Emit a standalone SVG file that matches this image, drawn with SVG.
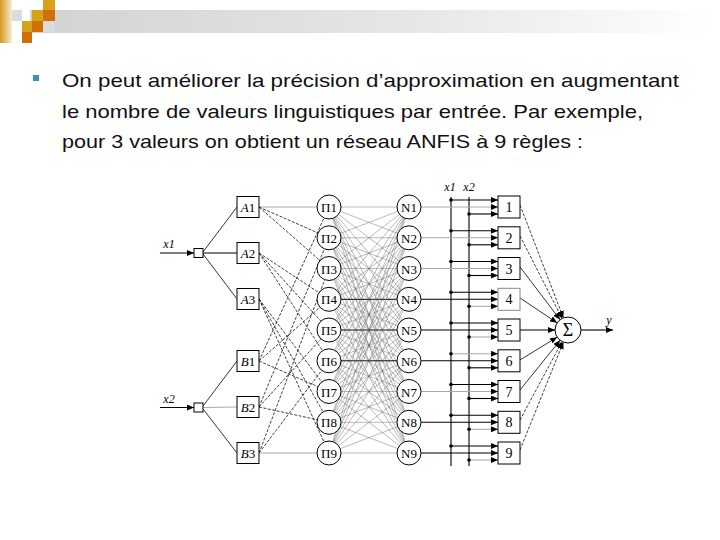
<svg xmlns="http://www.w3.org/2000/svg" width="720" height="540" viewBox="0 0 720 540">
<defs>
<linearGradient id="bar" x1="0" y1="0" x2="1" y2="0"><stop offset="0" stop-color="#d2d2d2"/><stop offset="0.55" stop-color="#e6e6e6"/><stop offset="1" stop-color="#ffffff"/></linearGradient>
<linearGradient id="strip" x1="0" y1="0" x2="1" y2="0"><stop offset="0" stop-color="#d49a1c"/><stop offset="1" stop-color="#f6ecd6"/></linearGradient>
<marker id="ah" markerWidth="8" markerHeight="6" refX="7" refY="3" orient="auto" markerUnits="userSpaceOnUse"><path d="M0,0L7,3L0,6z" fill="#000"/></marker>
<marker id="ahg" markerWidth="8" markerHeight="6" refX="7" refY="3" orient="auto" markerUnits="userSpaceOnUse"><path d="M0,0L7,3L0,6z" fill="#000"/></marker>
<style>
.t{font-family:"Liberation Sans",Arial,sans-serif;font-size:19px;fill:#111}
.lbl{font-family:"Liberation Serif","Times New Roman",serif;font-size:13px;fill:#000;text-anchor:middle}
.it{font-style:italic}
.box{fill:#fff;stroke:#000;stroke-width:1}
.circ{fill:#fff;stroke:#000;stroke-width:1}
.mesh line{stroke:#666;stroke-width:0.45}
.dash{stroke:#111;stroke-width:0.8;stroke-dasharray:3 1.5;fill:none}
.thin{stroke:#000;stroke-width:0.8;fill:none}
.blk{stroke:#000;stroke-width:1.1;fill:none}
.gry{stroke:#aaa;stroke-width:1.1;fill:none}
.dot{fill:#000}
</style>
</defs>
<g id="header">
<rect x="30" y="10" width="690" height="23" fill="url(#bar)"/>
<rect x="0" y="0" width="12" height="43" fill="url(#strip)"/>
<rect x="12" y="10" width="10" height="11" fill="#d8dce4"/>
<rect x="43" y="0" width="12" height="10" fill="#d6a21a"/>
<rect x="32" y="10" width="11" height="11" fill="#d6a21a"/>
<rect x="43" y="10" width="12" height="11" fill="#d06e08"/>
<rect x="22" y="21" width="10" height="11" fill="#d6a21a"/>
<rect x="32" y="21" width="11" height="11" fill="#d06e08"/>
<rect x="43" y="21" width="12" height="11" fill="#dcdcdc"/>
<rect x="22" y="32" width="10" height="11" fill="#d06e08"/>
</g>
<g id="text">
<rect x="33" y="75" width="6" height="6" fill="#3b8fd0"/>
<text class="t" x="62" y="87" textLength="617" lengthAdjust="spacingAndGlyphs">On peut améliorer la précision d’approximation en augmentant</text>
<text class="t" x="62" y="118" textLength="581" lengthAdjust="spacingAndGlyphs">le nombre de valeurs linguistiques par entrée. Par exemple,</text>
<text class="t" x="62" y="148" textLength="521" lengthAdjust="spacingAndGlyphs">pour 3 valeurs on obtient un réseau ANFIS à 9 règles :</text>
</g>
<g id="connectors">
<line class="blk" x1="160" y1="253" x2="194" y2="253" marker-end="url(#ah)"/>
<line class="blk" x1="160" y1="407.5" x2="194" y2="407.5" marker-end="url(#ah)"/>
<line class="thin" x1="203" y1="252" x2="237" y2="207"/>
<line class="blk" x1="203" y1="253" x2="237" y2="253"/>
<line class="thin" x1="203" y1="254" x2="237" y2="299"/>
<line class="thin" x1="203" y1="406" x2="237" y2="361"/>
<line class="gry" x1="203" y1="407.5" x2="237" y2="407"/>
<line class="thin" x1="203" y1="409" x2="237" y2="453"/>
<line class="gry" x1="259" y1="207" x2="329" y2="207"/>
<line class="dash" x1="259" y1="207" x2="329" y2="237.8"/>
<line class="dash" x1="259" y1="207" x2="329" y2="268.5"/>
<line class="dash" x1="259" y1="253" x2="329" y2="299.3"/>
<line class="dash" x1="259" y1="253" x2="329" y2="330"/>
<line class="dash" x1="259" y1="253" x2="329" y2="360.8"/>
<line class="dash" x1="259" y1="299" x2="329" y2="391.5"/>
<line class="dash" x1="259" y1="299" x2="329" y2="422.3"/>
<line class="dash" x1="259" y1="299" x2="329" y2="453"/>
<line class="dash" x1="259" y1="361" x2="329" y2="207"/>
<line class="dash" x1="259" y1="361" x2="329" y2="299.3"/>
<line class="dash" x1="259" y1="361" x2="329" y2="391.5"/>
<line class="dash" x1="259" y1="407" x2="329" y2="237.8"/>
<line class="dash" x1="259" y1="407" x2="329" y2="330"/>
<line class="dash" x1="259" y1="407" x2="329" y2="422.3"/>
<line class="dash" x1="259" y1="453" x2="329" y2="268.5"/>
<line class="dash" x1="259" y1="453" x2="329" y2="360.8"/>
<line class="gry" x1="259" y1="453" x2="329" y2="453"/>
<g class="mesh">
<line x1="329" y1="207" x2="409" y2="207"/><line x1="329" y1="207" x2="409" y2="237.8"/><line x1="329" y1="207" x2="409" y2="268.5"/><line x1="329" y1="207" x2="409" y2="299.3"/><line x1="329" y1="207" x2="409" y2="330"/><line x1="329" y1="207" x2="409" y2="360.8"/><line x1="329" y1="207" x2="409" y2="391.5"/><line x1="329" y1="207" x2="409" y2="422.3"/><line x1="329" y1="207" x2="409" y2="453"/>
<line x1="329" y1="237.8" x2="409" y2="207"/><line x1="329" y1="237.8" x2="409" y2="237.8"/><line x1="329" y1="237.8" x2="409" y2="268.5"/><line x1="329" y1="237.8" x2="409" y2="299.3"/><line x1="329" y1="237.8" x2="409" y2="330"/><line x1="329" y1="237.8" x2="409" y2="360.8"/><line x1="329" y1="237.8" x2="409" y2="391.5"/><line x1="329" y1="237.8" x2="409" y2="422.3"/><line x1="329" y1="237.8" x2="409" y2="453"/>
<line x1="329" y1="268.5" x2="409" y2="207"/><line x1="329" y1="268.5" x2="409" y2="237.8"/><line x1="329" y1="268.5" x2="409" y2="268.5"/><line x1="329" y1="268.5" x2="409" y2="299.3"/><line x1="329" y1="268.5" x2="409" y2="330"/><line x1="329" y1="268.5" x2="409" y2="360.8"/><line x1="329" y1="268.5" x2="409" y2="391.5"/><line x1="329" y1="268.5" x2="409" y2="422.3"/><line x1="329" y1="268.5" x2="409" y2="453"/>
<line x1="329" y1="299.3" x2="409" y2="207"/><line x1="329" y1="299.3" x2="409" y2="237.8"/><line x1="329" y1="299.3" x2="409" y2="268.5"/><line x1="329" y1="299.3" x2="409" y2="299.3" style="stroke:#000;stroke-width:1"/><line x1="329" y1="299.3" x2="409" y2="330"/><line x1="329" y1="299.3" x2="409" y2="360.8"/><line x1="329" y1="299.3" x2="409" y2="391.5"/><line x1="329" y1="299.3" x2="409" y2="422.3"/><line x1="329" y1="299.3" x2="409" y2="453"/>
<line x1="329" y1="330" x2="409" y2="207"/><line x1="329" y1="330" x2="409" y2="237.8"/><line x1="329" y1="330" x2="409" y2="268.5"/><line x1="329" y1="330" x2="409" y2="299.3"/><line x1="329" y1="330" x2="409" y2="330" style="stroke:#000;stroke-width:1"/><line x1="329" y1="330" x2="409" y2="360.8"/><line x1="329" y1="330" x2="409" y2="391.5"/><line x1="329" y1="330" x2="409" y2="422.3"/><line x1="329" y1="330" x2="409" y2="453"/>
<line x1="329" y1="360.8" x2="409" y2="207"/><line x1="329" y1="360.8" x2="409" y2="237.8"/><line x1="329" y1="360.8" x2="409" y2="268.5"/><line x1="329" y1="360.8" x2="409" y2="299.3"/><line x1="329" y1="360.8" x2="409" y2="330"/><line x1="329" y1="360.8" x2="409" y2="360.8" style="stroke:#000;stroke-width:1"/><line x1="329" y1="360.8" x2="409" y2="391.5"/><line x1="329" y1="360.8" x2="409" y2="422.3"/><line x1="329" y1="360.8" x2="409" y2="453"/>
<line x1="329" y1="391.5" x2="409" y2="207"/><line x1="329" y1="391.5" x2="409" y2="237.8"/><line x1="329" y1="391.5" x2="409" y2="268.5"/><line x1="329" y1="391.5" x2="409" y2="299.3"/><line x1="329" y1="391.5" x2="409" y2="330"/><line x1="329" y1="391.5" x2="409" y2="360.8"/><line x1="329" y1="391.5" x2="409" y2="391.5"/><line x1="329" y1="391.5" x2="409" y2="422.3"/><line x1="329" y1="391.5" x2="409" y2="453"/>
<line x1="329" y1="422.3" x2="409" y2="207"/><line x1="329" y1="422.3" x2="409" y2="237.8"/><line x1="329" y1="422.3" x2="409" y2="268.5"/><line x1="329" y1="422.3" x2="409" y2="299.3"/><line x1="329" y1="422.3" x2="409" y2="330"/><line x1="329" y1="422.3" x2="409" y2="360.8"/><line x1="329" y1="422.3" x2="409" y2="391.5"/><line x1="329" y1="422.3" x2="409" y2="422.3"/><line x1="329" y1="422.3" x2="409" y2="453"/>
<line x1="329" y1="453" x2="409" y2="207"/><line x1="329" y1="453" x2="409" y2="237.8"/><line x1="329" y1="453" x2="409" y2="268.5"/><line x1="329" y1="453" x2="409" y2="299.3"/><line x1="329" y1="453" x2="409" y2="330"/><line x1="329" y1="453" x2="409" y2="360.8"/><line x1="329" y1="453" x2="409" y2="391.5"/><line x1="329" y1="453" x2="409" y2="422.3"/><line x1="329" y1="453" x2="409" y2="453"/>
</g>
<line class="blk" x1="451" y1="197" x2="451" y2="466"/>
<line class="blk" x1="469" y1="197" x2="469" y2="466"/>
<line class="gry" x1="409" y1="207" x2="498" y2="207" marker-end="url(#ah)"/>
<line class="gry" x1="409" y1="237.8" x2="498" y2="237.8" marker-end="url(#ah)"/>
<line class="gry" x1="409" y1="268.5" x2="498" y2="268.5" marker-end="url(#ah)"/>
<line class="blk" x1="409" y1="299.3" x2="498" y2="299.3" marker-end="url(#ah)"/>
<line class="blk" x1="409" y1="330" x2="498" y2="330" marker-end="url(#ah)"/>
<line class="blk" x1="409" y1="360.8" x2="498" y2="360.8" marker-end="url(#ah)"/>
<line class="gry" x1="409" y1="391.5" x2="498" y2="391.5" marker-end="url(#ah)"/>
<line class="blk" x1="409" y1="422.3" x2="498" y2="422.3" marker-end="url(#ah)"/>
<line class="blk" x1="409" y1="453" x2="498" y2="453" marker-end="url(#ah)"/>
<line class="blk" x1="451" y1="200" x2="498" y2="200" marker-end="url(#ah)"/>
<line class="blk" x1="469" y1="214" x2="498" y2="214" marker-end="url(#ah)"/>
<line class="blk" x1="451" y1="230.8" x2="498" y2="230.8" marker-end="url(#ah)"/>
<line class="blk" x1="469" y1="244.8" x2="498" y2="244.8" marker-end="url(#ah)"/>
<line class="blk" x1="451" y1="261.5" x2="498" y2="261.5" marker-end="url(#ah)"/>
<line class="blk" x1="469" y1="275.5" x2="498" y2="275.5" marker-end="url(#ah)"/>
<line class="blk" x1="451" y1="292.3" x2="498" y2="292.3" marker-end="url(#ah)"/>
<line class="gry" x1="469" y1="306.3" x2="498" y2="306.3" marker-end="url(#ah)"/>
<line class="blk" x1="451" y1="323" x2="498" y2="323" marker-end="url(#ah)"/>
<line class="gry" x1="469" y1="337" x2="498" y2="337" marker-end="url(#ah)"/>
<line class="gry" x1="451" y1="353.8" x2="498" y2="353.8" marker-end="url(#ah)"/>
<line class="blk" x1="469" y1="367.8" x2="498" y2="367.8" marker-end="url(#ah)"/>
<line class="blk" x1="451" y1="384.5" x2="498" y2="384.5" marker-end="url(#ah)"/>
<line class="blk" x1="469" y1="398.5" x2="498" y2="398.5" marker-end="url(#ah)"/>
<line class="blk" x1="451" y1="415.3" x2="498" y2="415.3" marker-end="url(#ah)"/>
<line class="gry" x1="469" y1="429.3" x2="498" y2="429.3" marker-end="url(#ah)"/>
<line class="blk" x1="451" y1="446" x2="498" y2="446" marker-end="url(#ah)"/>
<line class="gry" x1="469" y1="460" x2="498" y2="460" marker-end="url(#ah)"/>
<g class="dot">
<circle cx="451" cy="200" r="1.8"/><circle cx="469" cy="214" r="1.8"/>
<circle cx="451" cy="230.8" r="1.8"/><circle cx="469" cy="244.8" r="1.8"/>
<circle cx="451" cy="261.5" r="1.8"/><circle cx="469" cy="275.5" r="1.8"/>
<circle cx="451" cy="292.3" r="1.8"/><circle cx="469" cy="306.3" r="1.8"/>
<circle cx="451" cy="323" r="1.8"/><circle cx="469" cy="337" r="1.8"/>
<circle cx="451" cy="353.8" r="1.8"/><circle cx="469" cy="367.8" r="1.8"/>
<circle cx="451" cy="384.5" r="1.8"/><circle cx="469" cy="398.5" r="1.8"/>
<circle cx="451" cy="415.3" r="1.8"/><circle cx="469" cy="429.3" r="1.8"/>
<circle cx="451" cy="446" r="1.8"/><circle cx="469" cy="460" r="1.8"/>
</g>
<line class="dash" x1="520" y1="205" x2="563.4" y2="317.9" marker-end="url(#ah)"/>
<line class="dash" x1="520" y1="236" x2="562.1" y2="318.4" marker-end="url(#ah)"/>
<line class="thin" x1="520" y1="267" x2="560.1" y2="319.7" marker-end="url(#ah)"/>
<line class="thin" x1="520" y1="298" x2="557.1" y2="322.8" marker-end="url(#ah)"/>
<line class="blk" x1="520" y1="330" x2="555" y2="330" marker-end="url(#ah)"/>
<line class="thin" x1="520" y1="360" x2="557.1" y2="337.2" marker-end="url(#ah)"/>
<line class="thin" x1="520" y1="390" x2="560.1" y2="340.3" marker-end="url(#ah)"/>
<line class="dash" x1="520" y1="420" x2="562.1" y2="341.6" marker-end="url(#ah)"/>
<line class="dash" x1="520" y1="450" x2="563.4" y2="342.1" marker-end="url(#ah)"/>
<line class="blk" x1="581" y1="330" x2="613" y2="330" marker-end="url(#ah)"/>
</g>
<g id="inputs">
<text class="lbl it" x="169" y="248" style="font-size:12px">x1</text>
<text class="lbl it" x="169" y="403" style="font-size:12px">x2</text>
<rect class="box" x="194" y="248.5" width="9" height="9"/>
<rect class="box" x="194" y="403" width="9" height="9"/>
<text class="lbl it" x="450" y="191" style="font-size:12px">x1</text>
<text class="lbl it" x="469" y="191" style="font-size:12px">x2</text>
</g>
<g id="A1"><rect class="box" x="237" y="196.5" width="22" height="21"/><text class="lbl" x="248" y="212"><tspan class="it">A</tspan>1</text></g>
<g id="A2"><rect class="box" x="237" y="242.5" width="22" height="21"/><text class="lbl" x="248" y="258"><tspan class="it">A</tspan>2</text></g>
<g id="A3"><rect class="box" x="237" y="288.5" width="22" height="21"/><text class="lbl" x="248" y="304"><tspan class="it">A</tspan>3</text></g>
<g id="B1"><rect class="box" x="237" y="350.5" width="22" height="21"/><text class="lbl" x="248" y="366"><tspan class="it">B</tspan>1</text></g>
<g id="B2"><rect class="box" x="237" y="396.5" width="22" height="21"/><text class="lbl" x="248" y="412"><tspan class="it">B</tspan>2</text></g>
<g id="B3"><rect class="box" x="237" y="442.5" width="22" height="21"/><text class="lbl" x="248" y="458"><tspan class="it">B</tspan>3</text></g>
<g id="P1"><circle class="circ" cx="329" cy="207" r="12"/><text class="lbl" x="329" y="212">Π1</text></g>
<g id="P2"><circle class="circ" cx="329" cy="237.8" r="12"/><text class="lbl" x="329" y="242.8">Π2</text></g>
<g id="P3"><circle class="circ" cx="329" cy="268.5" r="12"/><text class="lbl" x="329" y="273.5">Π3</text></g>
<g id="P4"><circle class="circ" cx="329" cy="299.3" r="12"/><text class="lbl" x="329" y="304.3">Π4</text></g>
<g id="P5"><circle class="circ" cx="329" cy="330" r="12"/><text class="lbl" x="329" y="335">Π5</text></g>
<g id="P6"><circle class="circ" cx="329" cy="360.8" r="12"/><text class="lbl" x="329" y="365.8">Π6</text></g>
<g id="P7"><circle class="circ" cx="329" cy="391.5" r="12"/><text class="lbl" x="329" y="396.5">Π7</text></g>
<g id="P8"><circle class="circ" cx="329" cy="422.3" r="12"/><text class="lbl" x="329" y="427.3">Π8</text></g>
<g id="P9"><circle class="circ" cx="329" cy="453" r="12"/><text class="lbl" x="329" y="458">Π9</text></g>
<g id="N1"><circle class="circ" cx="409" cy="207" r="12"/><text class="lbl" x="409" y="212">N1</text></g>
<g id="N2"><circle class="circ" cx="409" cy="237.8" r="12"/><text class="lbl" x="409" y="242.8">N2</text></g>
<g id="N3"><circle class="circ" cx="409" cy="268.5" r="12"/><text class="lbl" x="409" y="273.5">N3</text></g>
<g id="N4"><circle class="circ" cx="409" cy="299.3" r="12"/><text class="lbl" x="409" y="304.3">N4</text></g>
<g id="N5"><circle class="circ" cx="409" cy="330" r="12"/><text class="lbl" x="409" y="335">N5</text></g>
<g id="N6"><circle class="circ" cx="409" cy="360.8" r="12"/><text class="lbl" x="409" y="365.8">N6</text></g>
<g id="N7"><circle class="circ" cx="409" cy="391.5" r="12"/><text class="lbl" x="409" y="396.5">N7</text></g>
<g id="N8"><circle class="circ" cx="409" cy="422.3" r="12"/><text class="lbl" x="409" y="427.3">N8</text></g>
<g id="N9"><circle class="circ" cx="409" cy="453" r="12"/><text class="lbl" x="409" y="458">N9</text></g>
<g id="R1"><rect class="box" x="498" y="196" width="22" height="22"/><text class="lbl" x="509" y="212" style="font-size:14px">1</text></g>
<g id="R2"><rect class="box" x="498" y="226.8" width="22" height="22"/><text class="lbl" x="509" y="242.8" style="font-size:14px">2</text></g>
<g id="R3"><rect class="box" x="498" y="257.5" width="22" height="22"/><text class="lbl" x="509" y="273.5" style="font-size:14px">3</text></g>
<g id="R4"><rect class="box" x="498" y="288.3" width="22" height="22" style="stroke:#888"/><text class="lbl" x="509" y="304.3" style="font-size:14px">4</text></g>
<g id="R5"><rect class="box" x="498" y="319" width="22" height="22"/><text class="lbl" x="509" y="335" style="font-size:14px">5</text></g>
<g id="R6"><rect class="box" x="498" y="349.8" width="22" height="22"/><text class="lbl" x="509" y="365.8" style="font-size:14px">6</text></g>
<g id="R7"><rect class="box" x="498" y="380.5" width="22" height="22"/><text class="lbl" x="509" y="396.5" style="font-size:14px">7</text></g>
<g id="R8"><rect class="box" x="498" y="411.3" width="22" height="22"/><text class="lbl" x="509" y="427.3" style="font-size:14px">8</text></g>
<g id="R9"><rect class="box" x="498" y="442" width="22" height="22"/><text class="lbl" x="509" y="458" style="font-size:14px">9</text></g>
<g id="Sum"><circle class="circ" cx="568" cy="330" r="13"/><text class="lbl" x="568" y="336" style="font-size:18px">Σ</text></g>
<g id="out"><text class="lbl it" x="609" y="324" style="font-size:12px">y</text></g>
</svg>
